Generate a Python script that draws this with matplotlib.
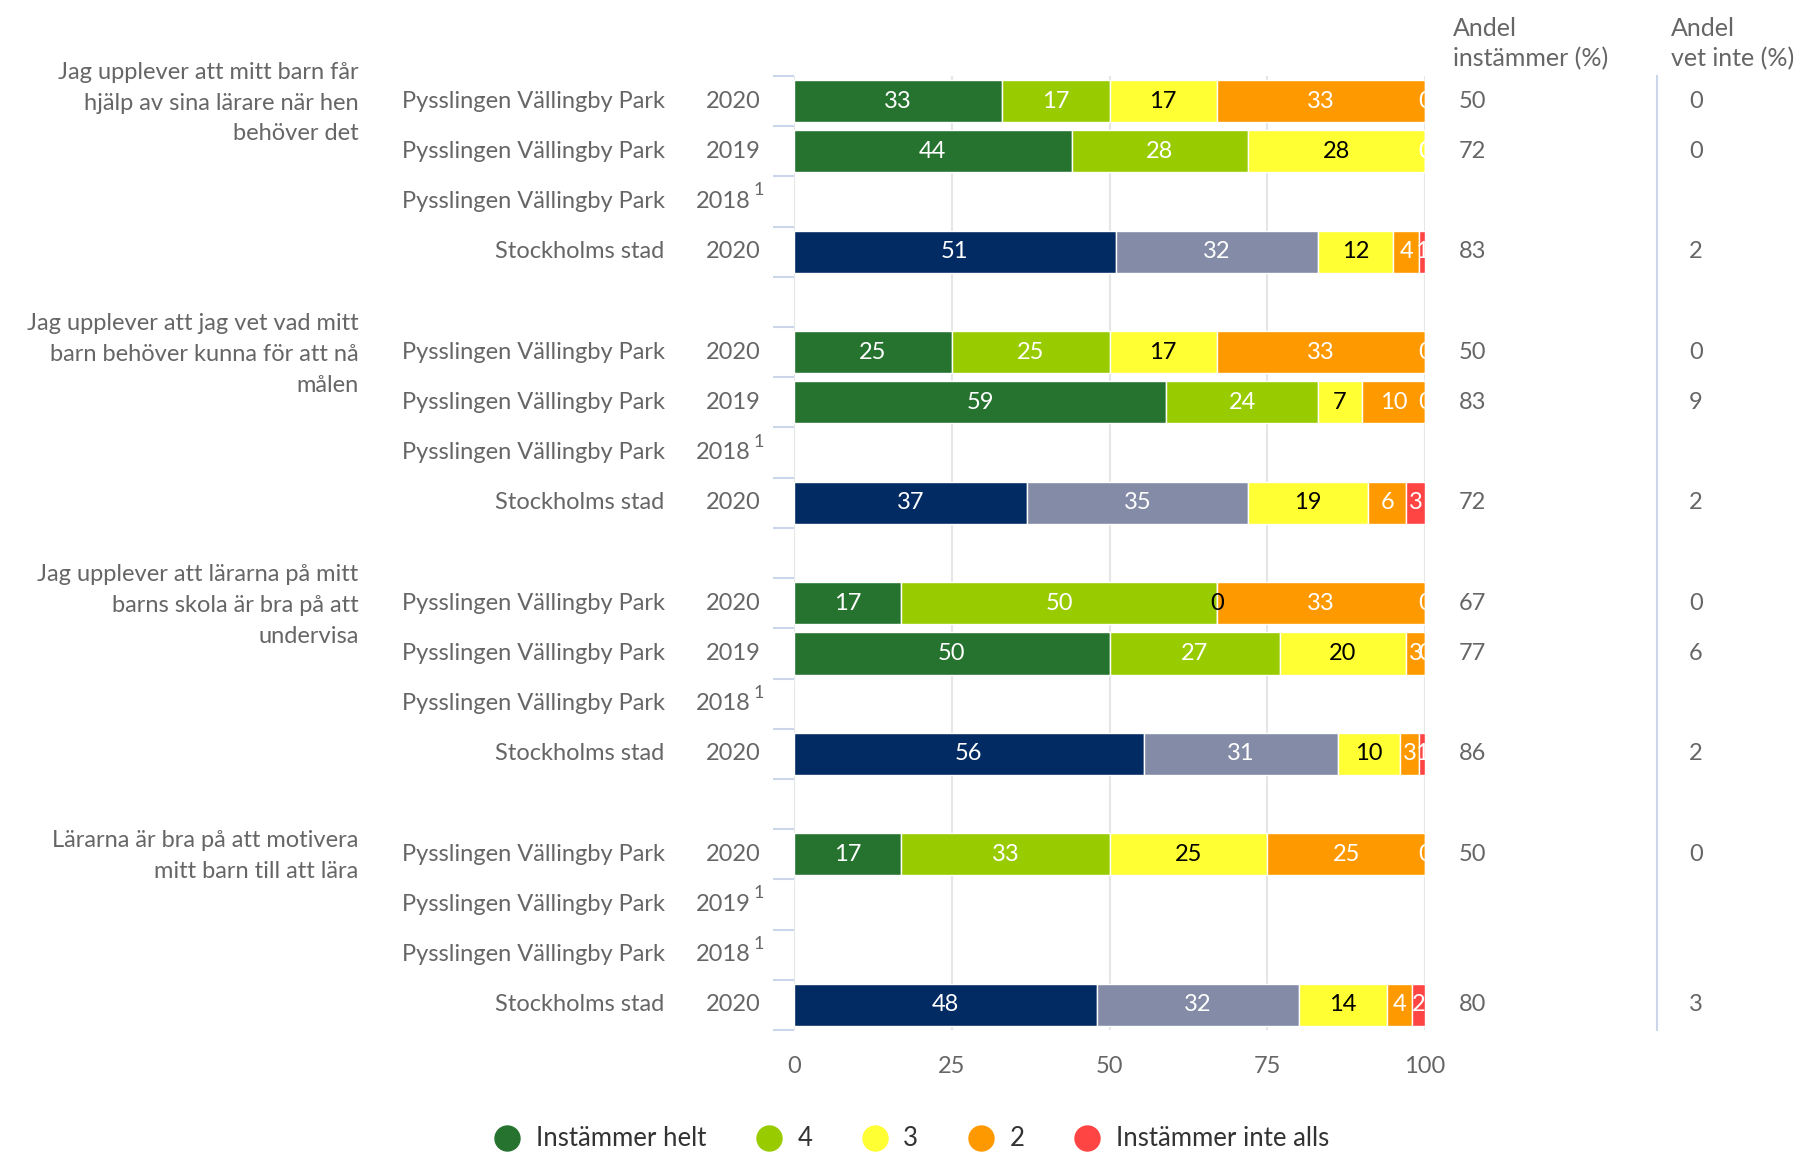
import numpy as np
import matplotlib
matplotlib.use("Agg")
import matplotlib.pyplot as plt
from matplotlib.lines import Line2D

plt.rcParams['font.family'] = ['Lato', 'DejaVu Sans']

# --------------------------------------------------------------------------
# Data
# --------------------------------------------------------------------------
questions = [
    "Jag upplever att mitt barn får\nhjälp av sina lärare när hen\nbehöver det",
    "Jag upplever att jag vet vad mitt\nbarn behöver kunna för att nå\nmålen",
    "Jag upplever att lärarna på mitt\nbarns skola är bra på att\nundervisa",
    "Lärarna är bra på att motivera\nmitt barn till att lära",
]
units = ["Pysslingen Vällingby Park", "Pysslingen Vällingby Park",
         "Pysslingen Vällingby Park", "Stockholms stad"]
years = [
    ["2020", "2019", "2018", "2020"],
    ["2020", "2019", "2018", "2020"],
    ["2020", "2019", "2018", "2020"],
    ["2020", "2019", "2018", "2020"],
]
# footnote flag (no data)
missing = [
    [False, False, True, False],
    [False, False, True, False],
    [False, False, True, False],
    [False, True, True, False],
]
# shares: Instämmer helt, 4, 3, 2, Instämmer inte alls  (None = no data)
shares = [
    [[33, 17, 17, 33, 0], [44, 28, 28, 0, 0], None, [51, 32, 12, 4, 1]],
    [[25, 25, 17, 33, 0], [59, 24, 7, 10, 0], None, [37, 35, 19, 6, 3]],
    [[17, 50, 0, 33, 0], [50, 27, 20, 3, 0], None, [56, 31, 10, 3, 1]],
    [[17, 33, 25, 25, 0], None, None, [48, 32, 14, 4, 2]],
]
andel_instammer = [
    ["50", "72", "", "83"],
    ["50", "83", "", "72"],
    ["67", "77", "", "86"],
    ["50", "", "", "80"],
]
andel_vet_inte = [
    ["0", "0", "", "2"],
    ["0", "9", "", "2"],
    ["0", "6", "", "2"],
    ["0", "", "", "3"],
]
legend_labels = ["Instämmer helt", "4", "3", "2", "Instämmer inte alls"]
school_colors = ['#267330', '#99cc00', '#ffff33', '#ff9900', '#ff4444']
city_colors = ['#032b63', '#838ba6', '#ffff33', '#ff9900', '#ff4444']
label_colors = ['white', 'white', 'black', 'white', 'white']

grey = '#666666'
axis_blue = '#ccd6eb'
fs = 17

fig = plt.figure(figsize=(18, 11.53), dpi=100)
ax = fig.add_axes([794 / 1800, 1 - 1030 / 1153, 631 / 1800, 954 / 1153])

n_slots = len(questions) * 5 - 1
ax.set_ylim(n_slots - 0.5, -0.5)
ax.set_xlim(0, 100)

to_fig = ax.get_yaxis_transform()
bar_h = 0.84

for g, q in enumerate(questions):
    base = g * 5
    ax.text(-0.69, base + 0.04, q, transform=to_fig, ha='right', va='center',
            fontsize=fs, color=grey, linespacing=1.58)
    for r in range(4):
        y = base + r
        ax.text(-0.205, y, units[r], transform=to_fig, ha='right', va='center',
                fontsize=fs, color=grey)
        if missing[g][r]:
            ax.text(-0.068, y, years[g][r], transform=to_fig, ha='right', va='center',
                    fontsize=fs, color=grey)
            ax.text(-0.064, y - 0.22, "1", transform=to_fig, ha='left', va='center',
                    fontsize=13, color=grey)
        else:
            ax.text(-0.053, y, years[g][r], transform=to_fig, ha='right', va='center',
                    fontsize=fs, color=grey)
        ax.text(1.053, y, andel_instammer[g][r], transform=to_fig, ha='left',
                va='center', fontsize=fs, color=grey)
        ax.text(1.429, y, andel_vet_inte[g][r], transform=to_fig, ha='center',
                va='center', fontsize=fs, color=grey)

        vals = shares[g][r]
        if vals is None:
            continue
        vals = np.array(vals, dtype=float)
        widths = vals / vals.sum() * 100
        lefts = np.concatenate([[0], np.cumsum(widths)[:-1]])
        cols = city_colors if units[r] == "Stockholms stad" else school_colors
        ax.barh(y, widths, left=lefts, height=bar_h, color=cols,
                edgecolor='white', linewidth=1.0, zorder=3)
        for v, w, l, tc in zip(vals, widths, lefts, label_colors):
            ax.text(l + w / 2, y, f"{v:.0f}", ha='center', va='center',
                    fontsize=fs, color=tc, zorder=4, clip_on=True)

# axes styling
ax.set_yticks(np.arange(-0.5, n_slots + 0.5, 1))
ax.set_yticklabels([])
ax.tick_params(axis='y', length=15, width=1.5, color=axis_blue, left=True)
ax.set_xticks([0, 25, 50, 75, 100])
ax.tick_params(axis='x', length=0, pad=19, labelsize=fs, labelcolor=grey)
ax.grid(axis='x', color='#e6e6e6', linewidth=1.5, zorder=0)
ax.set_axisbelow(True)
for s in ax.spines.values():
    s.set_visible(False)

# column headers and divider
ax.text(1.044, 1.006, "Andel\ninstämmer (%)", transform=ax.transAxes,
        ha='left', va='bottom', fontsize=18, color=grey, linespacing=1.35)
ax.text(1.39, 1.006, "Andel\nvet inte (%)", transform=ax.transAxes,
        ha='left', va='bottom', fontsize=18, color=grey, linespacing=1.35)
ax.plot([1.3677, 1.3677], [0, 1], transform=ax.transAxes, color=axis_blue,
        linewidth=1.5, clip_on=False)

# legend
handles = [Line2D([], [], marker='o', linestyle='none', markersize=18,
                  markerfacecolor=c, markeredgecolor=c) for c in school_colors]
fig.legend(handles, legend_labels, loc='center', bbox_to_anchor=(0.5065, 1 - 1139 / 1153),
           ncol=5, frameon=False, fontsize=18.5, labelcolor='#333333',
           handlelength=1.0, handletextpad=0.6, columnspacing=1.95)

fig.savefig("out.png", dpi=100)
